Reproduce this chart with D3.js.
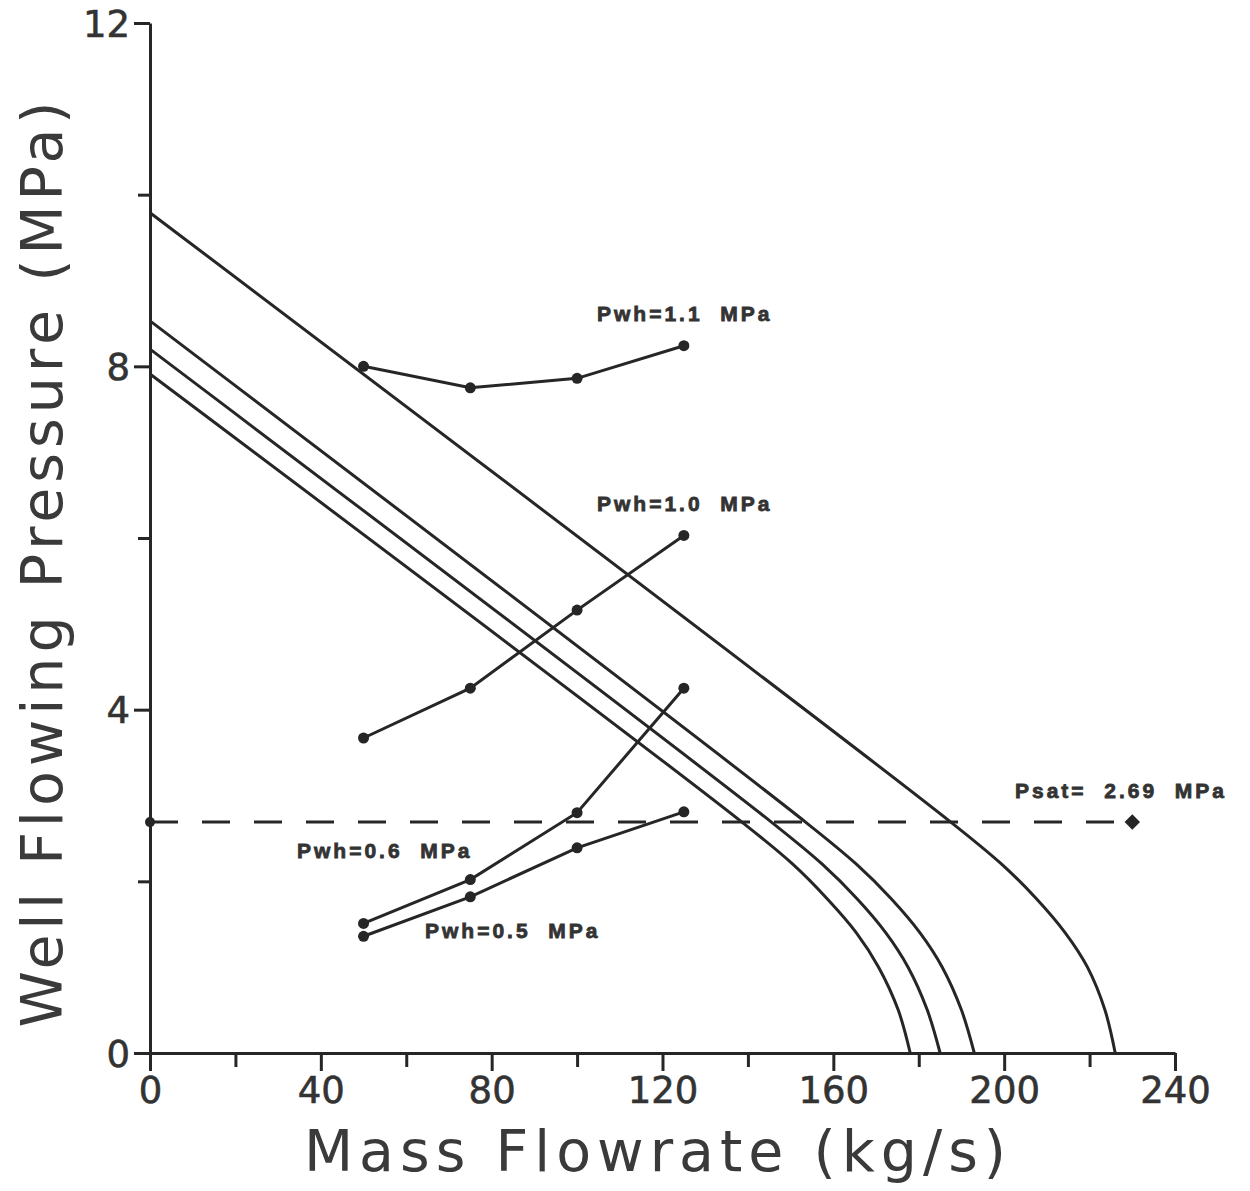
<!DOCTYPE html>
<html>
<head>
<meta charset="utf-8">
<script src="https://cdn.jsdelivr.net/npm/d3@7"></script>
<style>
  html, body { margin: 0; padding: 0; background: #fff; }
  svg { display: block; }
</style>
</head>
<body>
<div id="chart"></div>
<script>
// inflow performance curves, [mass flowrate kg/s, pressure MPa]
var ipr1 = [[0, 9.79], [187.5, 2.69], [199.4, 2.2], [207.5, 1.8], [214.3, 1.4], [219.5, 1.0], [223.6, 0.5], [226, 0]]
var ipr2 = [[0, 8.53], [153.5, 2.69], [165.4, 2.2], [173.5, 1.8], [180.3, 1.4], [185.5, 1.0], [190.0, 0.5], [193, 0]]
var ipr3 = [[0, 8.20], [145.5, 2.69], [157.4, 2.2], [165.5, 1.8], [172.3, 1.4], [177.5, 1.0], [182.0, 0.5], [185, 0]]
var ipr4 = [[0, 7.91], [138.6, 2.69], [150.5, 2.2], [158.5, 1.8], [165.4, 1.4], [170.6, 1.0], [175.2, 0.5], [178, 0]]

// tubing curves at different wellhead pressures
var flows = [50, 75, 100, 125]
var pwh11 = [8.00, 7.75, 7.86, 8.24]
var pwh10 = [3.67, 4.25, 5.16, 6.03]
var pwh06 = [1.51, 2.02, 2.80, 4.25]
var pwh05 = [1.36, 1.82, 2.39, 2.81]

var psat = 2.69
var psatEnd = 230

var xTicks = [0, 40, 80, 120, 160, 200, 240]
var xMinor = [20, 60, 100, 140, 180, 220]
var yTicks = [0, 4, 8, 12]
var yMinor = [2, 6, 10]

var ink = '#262626'

var svg = d3.select('#chart').append('svg')
	.attr('width', 1250).attr('height', 1191)

var x = d3.scaleLinear().domain([0, 240]).range([150, 1175])
var y = d3.scaleLinear().domain([0, 12]).range([1053, 23])

// axes
var xAxis = svg.append('g').attr('transform', 'translate(0,' + y(0) + ')')
	.call(d3.axisBottom(x).tickValues(xTicks).tickSize(18).tickPadding(6).tickSizeOuter(0))
svg.append('g').attr('transform', 'translate(0,' + y(0) + ')')
	.call(d3.axisBottom(x).tickValues(xMinor).tickSize(14).tickFormat('').tickSizeOuter(0))
	.select('.domain').remove()
var yAxis = svg.append('g').attr('transform', 'translate(' + x(0) + ',0)')
	.call(d3.axisLeft(y).tickValues(yTicks).tickSize(16).tickPadding(4).tickSizeOuter(0))
svg.append('g').attr('transform', 'translate(' + x(0) + ',0)')
	.call(d3.axisLeft(y).tickValues(yMinor).tickSize(12).tickFormat('').tickSizeOuter(0))
	.select('.domain').remove()

svg.selectAll('.domain, .tick line').attr('stroke', ink).attr('stroke-width', 3)
svg.selectAll('.tick text')
	.attr('font-family', 'DejaVu Sans, sans-serif').attr('font-size', 37)
	.attr('fill', '#333').attr('stroke', '#333').attr('stroke-width', 0.6)
yAxis.selectAll('.tick text').attr('dy', '0.36em')

// axis titles
svg.append('text')
	.attr('x', 658).attr('y', 1171)
	.attr('text-anchor', 'middle')
	.attr('font-family', 'DejaVu Sans, sans-serif').attr('font-size', 57)
	.attr('letter-spacing', 6)
	.attr('fill', '#3a3a3a')
	.text('Mass Flowrate (kg/s)')
svg.append('text')
	.attr('transform', 'translate(62,562) rotate(-90)')
	.attr('text-anchor', 'middle')
	.attr('font-family', 'DejaVu Sans, sans-serif').attr('font-size', 57)
	.attr('letter-spacing', 5)
	.attr('fill', '#3a3a3a')
	.text('Well Flowing Pressure (MPa)')

var line = d3.line()
	.x(function (d) { return x(d[0]) })
	.y(function (d) { return y(d[1]) })

// saturation pressure
svg.append('path')
	.attr('d', line([[0, psat], [psatEnd, psat]]))
	.attr('fill', 'none').attr('stroke', ink).attr('stroke-width', 3)
	.attr('stroke-dasharray', '28,24')

// IPR curves
var curve = d3.line()
	.x(function (d) { return x(d[0]) })
	.y(function (d) { return y(d[1]) })
	.curve(d3.curveCatmullRom.alpha(0.5))
;[ipr1, ipr2, ipr3, ipr4].forEach(function (s) {
	svg.append('path')
		.attr('d', curve(s))
		.attr('fill', 'none').attr('stroke', ink).attr('stroke-width', 3)
})

// tubing curves with markers
;[pwh11, pwh10, pwh06, pwh05].forEach(function (vals) {
	var pts = flows.map(function (f, i) { return [f, vals[i]] })
	svg.append('path')
		.attr('d', line(pts))
		.attr('fill', 'none').attr('stroke', ink).attr('stroke-width', 3)
	svg.selectAll(null).data(pts).enter().append('circle')
		.attr('cx', function (d) { return x(d[0]) })
		.attr('cy', function (d) { return y(d[1]) })
		.attr('r', 5.5)
		.attr('fill', ink)
})

var rhomb = d3.symbol().type(d3.symbolSquare).size(120)
svg.append('path').attr('d', rhomb)
	.attr('transform', 'translate(' + x(psatEnd) + ',' + y(psat) + ') rotate(45)').attr('fill', ink)
svg.append('circle').attr('cx', x(0)).attr('cy', y(psat)).attr('r', 5).attr('fill', ink)

// labels
var labels = [
	{ t: 'Pwh=1.1  MPa', x: 597, y: 321 },
	{ t: 'Pwh=1.0  MPa', x: 597, y: 511 },
	{ t: 'Pwh=0.6  MPa', x: 297, y: 858 },
	{ t: 'Pwh=0.5  MPa', x: 425, y: 938 },
	{ t: 'Psat=  2.69  MPa', x: 1015, y: 798 }
]
svg.selectAll(null).data(labels).enter().append('text')
	.attr('x', function (d) { return d.x }).attr('y', function (d) { return d.y })
	.attr('font-family', 'Liberation Sans, Arial, sans-serif').attr('font-weight', 'bold')
	.attr('font-size', 21).attr('letter-spacing', 3)
	.attr('xml:space', 'preserve').style('white-space', 'pre')
	.attr('fill', '#333').attr('stroke', '#333').attr('stroke-width', 0.8)
	.text(function (d) { return d.t })
</script>
</body>
</html>
